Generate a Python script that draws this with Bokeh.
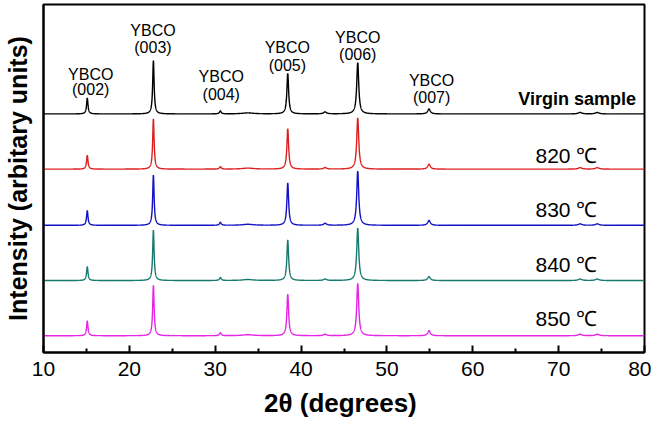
import numpy as np
from bokeh.plotting import figure
from bokeh.models import FixedTicker, Range1d
from bokeh.core.properties import value
from bokeh.embed import file_html
from bokeh.resources import INLINE

# ---- data ----
series_names = ["Virgin sample", "820 ℃", "830 ℃", "840 ℃", "850 ℃"]
series_colors = ["#000000", "#dd1f1f", "#1212c4", "#177a6c", "#e524e5"]
baselines = [242, 186, 129, 73, 17]          # vertical offsets (a.u.)

peak_pos = [15.1, 22.8, 30.6, 33.8, 38.45, 42.8, 46.6, 54.9, 72.5, 74.5]
peak_hwhm = [0.10, 0.10, 0.12, 0.8, 0.12, 0.20, 0.14, 0.18, 0.25, 0.25]
heights_virgin = [16, 54, 3, 1.0, 41, 2.0, 52, 5, 1.5, 1.5]
heights_820 = [14, 51, 2.5, 1.0, 41, 1.5, 52, 5, 1.5, 1.5]
heights_830 = [15, 51, 3, 1.0, 43, 2.0, 55, 5, 1.5, 1.5]
heights_840 = [14, 51, 3, 1.0, 41, 1.5, 53, 4, 1.5, 1.5]
heights_850 = [15, 51, 3, 1.0, 42, 1.5, 53, 5, 1.5, 1.5]
all_heights = [heights_virgin, heights_820, heights_830, heights_840, heights_850]

hkl_labels = ["(002)", "(003)", "(004)", "(005)", "(006)", "(007)"]
hkl_x = [15.5, 22.75, 30.7, 38.4, 46.6, 55.2]
hkl_y_top = [282, 327, 280, 309, 320, 276]
hkl_y_bot = [267, 309, 262, 291, 302, 259]

temp_x = 67.3
temp_y = [200, 145, 89, 34]

x_ticks = [10, 20, 30, 40, 50, 60, 70, 80]
x_minor = [15, 25, 35, 45, 55, 65, 75]

two_theta = np.arange(10.0, 80.0001, 0.01)

p = figure(width=651, height=420, output_backend="svg", toolbar_location=None,
           x_range=Range1d(10, 80), y_range=Range1d(0, 353),
           min_border_left=43, min_border_right=7, min_border_top=4, min_border_bottom=63)
p.background_fill_color = "white"
p.border_fill_color = "white"
p.grid.visible = False
p.outline_line_color = "black"
p.outline_line_width = 2

for name, col, base, hts in zip(series_names, series_colors, baselines, all_heights):
    inten = np.full_like(two_theta, float(base))
    for pos, w, h in zip(peak_pos, peak_hwhm, hts):
        inten += h * w**2 / ((two_theta - pos) ** 2 + w**2)
    p.line(two_theta, inten, line_color=col, line_width=1.4)

font = value("Liberation Sans")
p.text(x=hkl_x, y=hkl_y_top, text=["YBCO"] * len(hkl_x), text_font=font,
       text_font_size="16px", text_align="center", text_baseline="middle", text_color="black")
p.text(x=hkl_x, y=hkl_y_bot, text=hkl_labels, text_font=font,
       text_font_size="16px", text_align="center", text_baseline="middle", text_color="black")
p.text(x=[79.0], y=[257], text=[series_names[0]], text_font=font, text_font_style="bold",
       text_font_size="18px", text_align="right", text_baseline="middle", text_color="black")
p.text(x=[temp_x] * 4, y=temp_y, text=series_names[1:], text_font=font,
       text_font_size="21px", text_align="left", text_baseline="middle", text_color="black")

xa = p.xaxis[0]
xa.ticker = FixedTicker(ticks=x_ticks, minor_ticks=x_minor)
xa.axis_line_width = 2
xa.major_tick_in = 7
xa.major_tick_out = 0
xa.minor_tick_in = 4
xa.minor_tick_out = 0
xa.major_tick_line_width = 2
xa.minor_tick_line_width = 2
xa.major_label_text_font = "Liberation Sans"
xa.major_label_text_font_size = "21px"
xa.major_label_text_color = "black"
xa.major_label_standoff = 9
xa.axis_label = "2θ  (degrees)"
xa.axis_label_text_font = "Liberation Sans"
xa.axis_label_text_font_style = "bold"
xa.axis_label_text_font_size = "26px"
xa.axis_label_text_color = "black"
xa.axis_label_standoff = 9

ya = p.yaxis[0]
ya.ticker = FixedTicker(ticks=[])
ya.axis_line_width = 2
ya.major_tick_line_color = None
ya.minor_tick_line_color = None
ya.major_label_text_font_size = "0px"
ya.axis_label = "Intensity (arbitary units)"
ya.axis_label_text_font = "Liberation Sans"
ya.axis_label_text_font_style = "bold"
ya.axis_label_text_font_size = "25px"
ya.axis_label_text_color = "black"
ya.axis_label_standoff = 12

open("out.html", "w").write(file_html(p, INLINE))
